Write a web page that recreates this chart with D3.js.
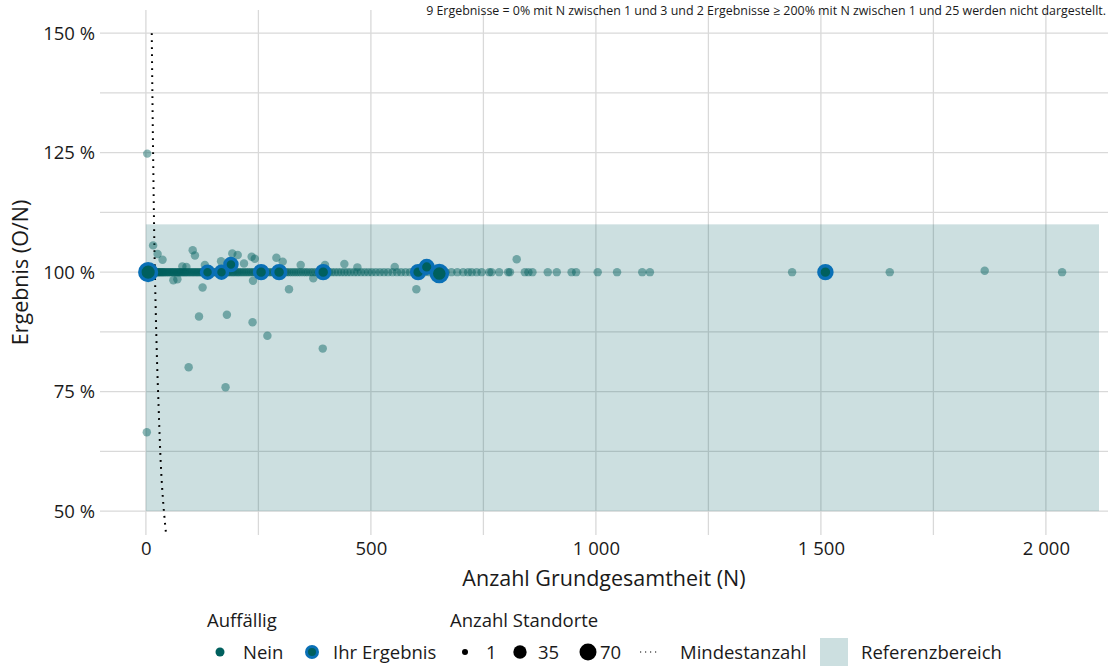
<!DOCTYPE html>
<html><head><meta charset="utf-8">
<script src="https://cdn.jsdelivr.net/npm/d3@7"></script>
<style>
html,body{margin:0;padding:0;background:#fff;}
svg{display:block;font-family:"Open Sans",sans-serif;}
</style></head>
<body><svg id="chart" width="1112" height="666"></svg>
<script>
// ---------- data ----------
const xTicks = [0, 500, 1000, 1500, 2000];
const xMinorTicks = [250, 750, 1250, 1750];
const yTicks = [50, 75, 100, 125, 150];
const yMinorTicks = [62.5, 87.5, 112.5, 137.5];
const xTickLabels = ["0", "500", "1 000", "1 500", "2 000"];
const yTickLabels = ["50 %", "75 %", "100 %", "125 %", "150 %"];

// reference range (Referenzbereich)
const refN = [0, 2118];
const refRatio = [50, 110];

// Mindestanzahl line
const mindestN = [13, 16, 20, 27, 40, 45];
const mindestRatio = [150, 125, 100, 75, 50, 45];

// results exactly at 100 %
const at100N = [1,2,3,4,5,6,7,8,9,10,11,12,13,14,15,17,18,20,22,23,25,27,28,30,32,34,36,38,40,42,45,47,50,52,55,57,60,62,65,68,70,73,75,78,80,83,86,88,91,94,97,100,103,106,109,112,115,118,121,124,127,130,133,136,140,143,146,150,
 153,157,160,163,167,170,174,177,181,184,188,192,195,199,203,206,210,214,218,222,226,230,234,238,242,247,251,255,260,264,268,273,277,282,286,291,295,300,
 305,310,314,319,324,329,334,339,344,350,355,360,366,371,377,383,389,395,401,407,413,420,427,434,441,448,
 455,463,470,478,486,494,502,511,520,529,538,548,558,567,577,587,597,608,619,630,642,654,666,679,692,
 705,716,724,735,746,763,768,785,805,809,842,850,859,893,913,946,956,1004,1047,1103,1120,1436,1653,2036];
const at100Standorte = 7;

// results not at 100 %
const otherN =     [3,    2,    16,   26,   37,   104,  109,  192,  204,  235,  242,  290,  304,  167,  218,  81,   90,   131,  344,  441,  470,  553,  398,  824,  61,  70,  126, 238, 318, 372, 601, 118, 180, 237, 270, 393, 95,  177, 1864];
const otherRatio = [124.8,66.5, 105.6,103.8,102.6,104.6,103.5,103.9,103.6,103.2,102.8,103.0,102.2,102.3,101.8,101.2,101.1,101.5,101.5,101.7,101.0,101.1,101.5,102.7,98.3,98.5,96.8,98.2,96.4,98.7,96.4,90.7,91.1,89.5,86.7,84.0,80.1,75.9,100.3];
const otherStandorte = 7;

// "Ihr Ergebnis"
const ihrN =         [5,   137, 168, 189,   256, 296, 394, 605, 624,   652,  1510];
const ihrRatio =     [100, 100, 100, 101.6, 100, 100, 100, 100, 101.1, 99.7, 100];
const ihrStandorte = [66,  25,  25,  25,    32,  32,  32,  32,  30,    60,   32];

const legendStandorte = [1, 35, 70];
const noteText = "9 Ergebnisse = 0% mit N zwischen 1 und 3 und 2 Ergebnisse \u2265 200% mit N zwischen 1 und 25 werden nicht dargestellt.";

// ---------- layout ----------
const svg = d3.select("#chart");
const P = {left: 100, right: 1108, top: 10, bottom: 535};
const x = d3.scaleLinear().domain([-102, 2138]).range([P.left, P.right]);
const y = d3.scaleLinear().domain([45, 154.85]).range([P.bottom, P.top]);
const rScale = d3.scaleSqrt().domain([1, 70]).range([3, 8.5]);

const TEAL = "#00605e", BLUE = "#0a70b6", GRID = "#d9d9d9", BAND = "#005f64", TXT = "#1a1a1a";
const FS_TICK = 18.5, FS_TITLE = 21.5, FS_LEG = 18.5;

// gridlines
const g = svg.append("g");
g.selectAll(".vg").data(xTicks.concat(xMinorTicks)).join("line")
  .attr("x1", d => x(d)).attr("x2", d => x(d)).attr("y1", P.top).attr("y2", P.bottom)
  .attr("stroke", GRID).attr("stroke-width", 1.3);
g.selectAll(".hg").data(yTicks.concat(yMinorTicks)).join("line")
  .attr("x1", P.left).attr("x2", P.right).attr("y1", d => y(d)).attr("y2", d => y(d))
  .attr("stroke", GRID).attr("stroke-width", 1.3);

// reference band
svg.append("rect")
  .attr("x", x(refN[0])).attr("width", x(refN[1]) - x(refN[0]))
  .attr("y", y(refRatio[1])).attr("height", y(refRatio[0]) - y(refRatio[1]))
  .attr("fill", BAND).attr("fill-opacity", 0.2);

// Mindestanzahl
svg.append("path")
  .datum(mindestN.map((n, i) => [n, mindestRatio[i]]))
  .attr("d", d3.line().x(d => x(d[0])).y(d => y(d[1])).curve(d3.curveMonotoneY))
  .attr("fill", "none").attr("stroke", "#000").attr("stroke-width", 2)
  .attr("stroke-dasharray", "1.8,5.2");

// points
const pts = at100N.map(n => ({n, r: 100, s: at100Standorte}))
  .concat(otherN.map((n, i) => ({n, r: otherRatio[i], s: otherStandorte})));
svg.append("g").selectAll("circle").data(pts).join("circle")
  .attr("cx", d => x(d.n)).attr("cy", d => y(d.r)).attr("r", d => rScale(d.s))
  .attr("fill", TEAL).attr("fill-opacity", 0.45);

const ihr = ihrN.map((n, i) => ({n, r: ihrRatio[i], s: ihrStandorte[i]}));
svg.append("g").selectAll("circle").data(ihr).join("circle")
  .attr("cx", d => x(d.n)).attr("cy", d => y(d.r)).attr("r", d => rScale(d.s))
  .attr("fill", TEAL).attr("stroke", BLUE).attr("stroke-width", 3.5);

// axes (labels only)
const xAxis = d3.axisBottom(x).tickValues(xTicks).tickFormat((d, i) => xTickLabels[i]).tickSize(0).tickPadding(0);
const xa = svg.append("g").attr("transform", `translate(0,${P.bottom})`).call(xAxis);
xa.select(".domain").remove();
xa.selectAll("text").attr("y", 20).attr("dy", 0).attr("font-size", FS_TICK).attr("fill", TXT).attr("font-family", "Open Sans");

const yAxis = d3.axisLeft(y).tickValues(yTicks).tickFormat((d, i) => yTickLabels[i]).tickSize(0).tickPadding(5);
const ya = svg.append("g").attr("transform", `translate(${P.left},0)`).call(yAxis);
ya.select(".domain").remove();
ya.selectAll("text").attr("font-size", FS_TICK).attr("fill", TXT).attr("font-family", "Open Sans");

// axis titles
svg.append("text").attr("x", (P.left + P.right) / 2).attr("y", 586).attr("text-anchor", "middle")
  .attr("font-size", FS_TITLE).attr("fill", TXT).text("Anzahl Grundgesamtheit (N)");
svg.append("text").attr("transform", `translate(28,${(P.top + P.bottom) / 2}) rotate(-90)`)
  .attr("text-anchor", "middle").attr("font-size", FS_TITLE).attr("fill", TXT).text("Ergebnis (O/N)");

// note (fit to width of the original)
const note = svg.append("text").attr("x", 1106).attr("y", 15).attr("text-anchor", "end")
  .attr("font-size", 10).attr("fill", TXT).text(noteText);
const nl = note.node().getComputedTextLength();
note.attr("font-size", 10 * 681 / nl);

// legend
const L = svg.append("g").attr("font-size", FS_LEG).attr("fill", TXT);
const ly = 652, lt = ly + 6.5;
L.append("text").attr("x", 207).attr("y", 627).text("Auffällig");
L.append("circle").attr("cx", 220).attr("cy", ly).attr("r", 4.5).attr("fill", TEAL);
L.append("text").attr("x", 243).attr("y", lt).text("Nein");
L.append("circle").attr("cx", 312).attr("cy", ly).attr("r", 5.5).attr("fill", TEAL).attr("stroke", BLUE).attr("stroke-width", 3);
L.append("text").attr("x", 333).attr("y", lt).text("Ihr Ergebnis");
L.append("text").attr("x", 450).attr("y", 627).text("Anzahl Standorte");
const sizeX = [465, 520, 588], sizeTX = [486, 538, 600];
legendStandorte.forEach((s, i) => {
  L.append("circle").attr("cx", sizeX[i]).attr("cy", ly).attr("r", rScale(s)).attr("fill", "#000");
  L.append("text").attr("x", sizeTX[i]).attr("y", lt).text(s);
});
L.append("line").attr("x1", 640).attr("x2", 658).attr("y1", ly).attr("y2", ly)
  .attr("stroke", "#000").attr("stroke-width", 1.2).attr("stroke-dasharray", "1.2,3.8");
L.append("text").attr("x", 680).attr("y", lt).text("Mindestanzahl");
L.append("rect").attr("x", 820).attr("y", 638).attr("width", 28).attr("height", 28)
  .attr("fill", BAND).attr("fill-opacity", 0.2);
L.append("text").attr("x", 861).attr("y", lt).text("Referenzbereich");
</script></body></html>
